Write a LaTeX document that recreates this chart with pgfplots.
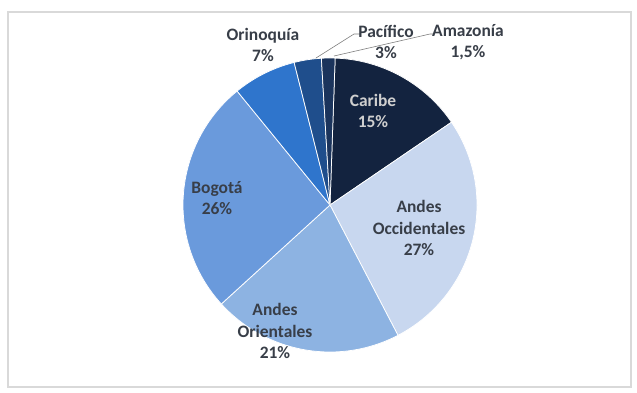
\documentclass[border=0pt]{standalone}
\usepackage{pgfplots}
\pgfplotsset{compat=1.18}
\usepackage{pgfplotstable}
\usepackage{fontspec}
\setmainfont{Carlito}
\definecolor{slice0}{HTML}{13233F}
\definecolor{slice1}{HTML}{C8D7EF}
\definecolor{slice2}{HTML}{8DB3E2}
\definecolor{slice3}{HTML}{6A9ADC}
\definecolor{slice4}{HTML}{2F75CC}
\definecolor{slice5}{HTML}{1F4E8C}
\definecolor{slice6}{HTML}{1B345C}
\definecolor{framegray}{HTML}{D9D9D9}
\definecolor{labgray}{HTML}{383E48}
\definecolor{labwhite}{HTML}{CFCFCF}
\pgfplotstableread{
name value
Caribe 15
AndesOccidentales 27
AndesOrientales 21
Bogota 26
Orinoquia 7
Pacifico 3
Amazonia 1.5
}\piedata
\begin{document}
\begin{tikzpicture}[x=1bp,y=1bp]
\useasboundingbox (0,0) rectangle (637,392);
\fill[white] (0,0) rectangle (637,392);
\draw[draw=framegray, line width=1.5bp] (8,5) rectangle (631,380);
\begin{axis}[at={(330bp,187bp)}, anchor=center, scale only axis, width=294bp, height=294bp,
  xmin=-1, xmax=1, ymin=-1, ymax=1, hide axis, clip=false]
\pgfmathsetmacro{\cum}{0}
\pgfplotsforeachungrouped \i in {0,...,6}{%
  \pgfplotstablegetelem{\i}{value}\of\piedata
  \let\val\pgfplotsretval
  \pgfmathsetmacro{\a}{88-\cum/100.5*360}%
  \pgfmathsetmacro{\cumnew}{\cum+\val}%
  \pgfmathsetmacro{\b}{88-\cumnew/100.5*360}%
  \let\cum\cumnew
  \edef\tmp{\noexpand\addplot[fill=slice\i, draw=white, line width=0.75bp, domain=\b:\a, samples=60, variable=\noexpand\t] ({cos(\noexpand\t)},{sin(\noexpand\t)}) -- (axis cs:0,0) -- cycle;}%
  \tmp
}
\end{axis}
\draw[gray, line width=0.6bp] (316,334) -- (354,358) -- (360,358);
\draw[gray, line width=0.6bp] (334,336) -- (430,358) -- (434,358);
\tikzset{lab/.style={align=center, font=\bfseries\fontsize{17.5}{21.5}\selectfont, text=labgray, inner sep=0pt}}
\node[lab, text=labwhite] at (373,281) {Caribe\\15\%};
\node[lab] at (419,164) {Andes\\Occidentales\\27\%};
\node[lab] at (275,61) {Andes\\Orientales\\21\%};
\node[lab] at (217,194) {Bogotá\\26\%};
\node[lab] at (263,347) {Orinoquía\\7\%};
\node[lab] at (386,350) {Pacífico\\3\%};
\node[lab] at (468,350) {Amazonía\\1,5\%};
\end{tikzpicture}
\end{document}
